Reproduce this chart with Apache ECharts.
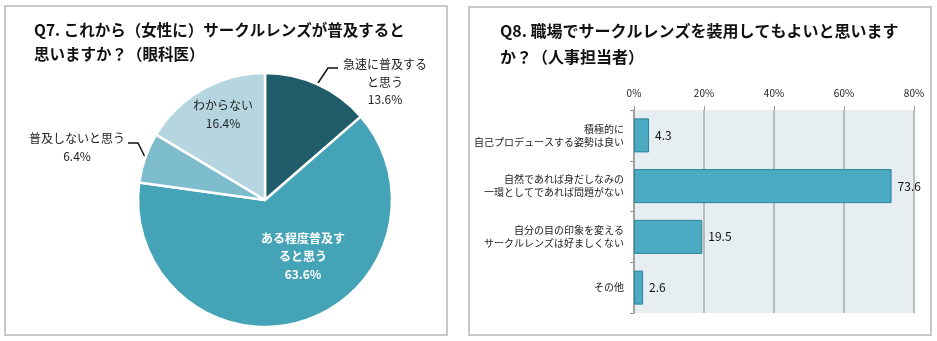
<!DOCTYPE html>
<html><head><meta charset="utf-8">
<script src="https://cdn.jsdelivr.net/npm/echarts@6/dist/echarts.min.js"></script>
<style>html,body{margin:0;padding:0;background:#fff}#c{width:937px;height:341px}</style>
</head><body><div id="c"></div>
<script>
const pieNames = ['急速に普及する\nと思う', 'ある程度普及す\nると思う', '普及しないと思う', 'わからない'];
const pieValues = [13.6, 63.6, 6.4, 16.4];
const pieColors = ['#215c6a', '#45a3b8', '#7cbccd', '#b5d6e0'];

const barCategories = ['積極的に\n自己プロデュースする姿勢は良い', '自然であれば身だしなみの\n一環としてであれば問題がない', '自分の目の印象を変える\nサークルレンズは好ましくない', 'その他'];
const barValues = [4.3, 73.6, 19.5, 2.6];
const xTicks = [0, 20, 40, 60, 80];

const FONT = '"Noto Sans CJK JP", sans-serif';
const chart = echarts.init(document.getElementById('c'));

const labelCfg = [
  {position: 'outside', color: '#222', fontSize: 12, lineHeight: 17.5, align: 'center'},
  {position: 'inside', color: '#fff', fontSize: 12, lineHeight: 18, fontWeight: 'bold', align: 'center'},
  {position: 'outside', color: '#222', fontSize: 12, lineHeight: 18, align: 'center'},
  {position: 'inside', color: '#222', fontSize: 12, lineHeight: 18, align: 'center'}
];
// label placement (layout only)
const labelPlace = [
  {x: 385, y: 82, line: [[318, 83], [328, 68], [338, 68]]},
  {x: 303, y: 256},
  {x: 77, y: 147, line: [[145, 157], [138, 143], [128, 143]]},
  {x: 223, y: 114}
];

chart.setOption({
  animation: false,
  textStyle: {fontFamily: FONT},
  graphic: [
    {type: 'rect', shape: {x: 5, y: 6, width: 442, height: 329}, style: {fill: 'none', stroke: '#c8c8c8', lineWidth: 2}},
    {type: 'rect', shape: {x: 469, y: 7, width: 462, height: 328}, style: {fill: 'none', stroke: '#c8c8c8', lineWidth: 2}},
    {type: 'text', left: 34, top: 18, style: {text: 'Q7. これから（女性に）サークルレンズが普及すると\n思いますか？（眼科医）', font: 'bold 15.5px ' + FONT, fill: '#111', lineHeight: 24}},
    {type: 'text', left: 500, top: 18, style: {text: 'Q8. 職場でサークルレンズを装用してもよいと思います\nか？（人事担当者）', font: 'bold 16px ' + FONT, fill: '#111', lineHeight: 26}}
  ],
  grid: {left: 634, width: 280, top: 110, height: 203, show: true, backgroundColor: '#e7eef1', borderWidth: 0},
  xAxis: {
    type: 'value', position: 'top', min: 0, max: 80, interval: 20,
    axisLine: {show: false},
    axisTick: {show: true, length: 4, lineStyle: {color: '#999'}},
    axisLabel: {fontSize: 10, color: '#222', margin: 12, formatter: v => xTicks.includes(v) ? v + '%' : ''},
    splitLine: {show: true, lineStyle: {color: '#a8a8a8', width: 1.5}}
  },
  yAxis: {
    type: 'category', data: barCategories, inverse: true,
    axisLine: {show: true, lineStyle: {color: '#999', width: 1.5}},
    axisTick: {show: true, length: 4, lineStyle: {color: '#999'}},
    axisLabel: {fontSize: 10, color: '#222', margin: 10, lineHeight: 13, align: 'right'}
  },
  series: [
    {
      type: 'pie', center: [265, 200], radius: 127, startAngle: 90, clockwise: true,
      avoidLabelOverlap: false,
      itemStyle: {borderColor: '#fff', borderWidth: 2.5},
      label: {fontFamily: FONT, formatter: p => p.name + '\n' + p.value.toFixed(1) + '%'},
      labelLine: {show: true, length: 10, length2: 12, lineStyle: {color: '#111', width: 1.5}},
      labelLayout: p => {
        const lp = labelPlace[p.dataIndex];
        const r = {x: lp.x, y: lp.y, align: 'center', verticalAlign: 'middle'};
        if (lp.line) r.labelLinePoints = lp.line;
        return r;
      },
      data: pieNames.map((n, i) => ({
        name: n, value: pieValues[i],
        itemStyle: {color: pieColors[i]},
        label: labelCfg[i],
        labelLine: {show: labelCfg[i].position === 'outside'}
      }))
    },
    {
      type: 'bar', data: barValues, barCategoryGap: '33%',
      itemStyle: {color: '#4aabc3', borderColor: '#2f8397', borderWidth: 1},
      label: {show: true, position: 'right', distance: 6, fontSize: 12, color: '#111', formatter: p => p.value.toFixed(1)}
    }
  ]
});
</script></body></html>
